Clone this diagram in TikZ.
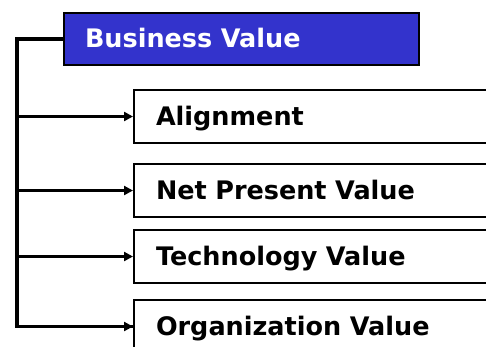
\documentclass[tikz,border=0pt]{standalone}
\usepackage{fontspec}
\setmainfont{DejaVu Sans}
\usetikzlibrary{arrows.meta}
\definecolor{bvblue}{RGB}{51,51,204}
\tikzset{
  box/.style={draw=black, line width=2pt, rectangle, anchor=north west,
    minimum height=53pt, inner xsep=21pt, align=left,
    text height=19pt, text depth=2pt,
    font=\fontsize{25.5}{30}\selectfont\bfseries},
  topbox/.style={box, fill=bvblue, text=white, minimum width=355pt, text width=313pt, minimum height=52pt},
  subbox/.style={box, fill=white, minimum width=380pt, text width=336pt},
  conn/.style={line width=3.2pt, draw=black, line join=miter},
  arr/.style={conn, -{Triangle[length=9pt,width=9pt]}}
}
\begin{document}
\begin{tikzpicture}[x=1pt,y=-1pt]
\useasboundingbox (0,0) rectangle (486,346);
\clip (0,0) rectangle (486,346);
\node[topbox] (bv) at (63,12) {Business Value};
\node[subbox] (al) at (133,89) {Alignment};
\node[subbox] (npv) at (133,163) {Net Present Value};
\node[subbox] (tv) at (133,229) {Technology Value};
\node[subbox] (ov) at (133,299) {Organization Value};
\coordinate (tx) at (17,0);
\coordinate (top) at (tx |- bv.west);
\draw[conn] (bv.west) -- (top) |- (ov.west);
\draw[arr] (top |- al.west) -- (al.west);
\draw[arr] (top |- npv.west) -- (npv.west);
\draw[arr] (top |- tv.west) -- (tv.west);
\draw[arr] (top |- ov.west) -- (ov.west);
\end{tikzpicture}
\end{document}
